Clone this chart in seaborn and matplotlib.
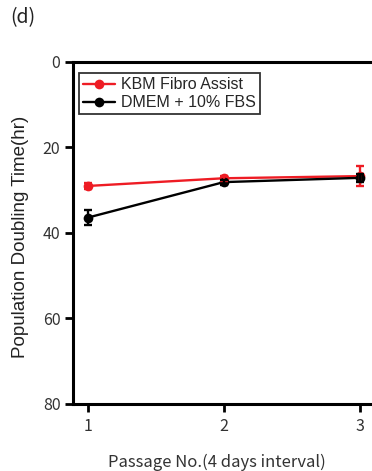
import matplotlib
matplotlib.use("Agg")
import matplotlib.pyplot as plt
import seaborn as sns
import pandas as pd

# Population doubling time per passage, mean and error
passages = [1, 2, 3]
kbm_mean = [29.0, 27.2, 26.7]
kbm_err = [0.6, 0.6, 2.3]
dmem_mean = [36.4, 28.1, 27.1]
dmem_err = [1.7, 0.6, 0.9]
series_names = ["KBM Fibro Assist", "DMEM + 10% FBS"]
series_colors = ["#ee1c24", "#000000"]
y_ticks = [0, 20, 40, 60, 80]

sns.set_theme(style="white")
plt.rcParams["font.family"] = ["Liberation Sans", "DejaVu Sans"]

df = pd.DataFrame({
    "passage": passages * 2,
    "pdt": kbm_mean + dmem_mean,
    "err": kbm_err + dmem_err,
    "medium": [series_names[0]] * 3 + [series_names[1]] * 3,
})

fig = plt.figure(figsize=(3.72, 4.71), dpi=100)
ax = fig.add_axes([0.196, 0.1423, 0.826, 0.7261])

sns.lineplot(data=df, x="passage", y="pdt", hue="medium",
             palette=dict(zip(series_names, series_colors)),
             marker="o", markersize=7, markeredgewidth=0, linewidth=1.7,
             ax=ax, legend=True)

for name, color, z in zip(series_names, series_colors, [3, 4]):
    sub = df[df["medium"] == name]
    ax.errorbar(sub["passage"], sub["pdt"], yerr=sub["err"], fmt="none",
                ecolor=color, elinewidth=1.7, capsize=3, capthick=1.7, zorder=z)

ax.set_xlim(0.89, 3.15)
ax.set_ylim(80, 0)
ax.set_yticks(y_ticks)
ax.set_xticks(passages)
tick_font = ["Noto Sans CJK JP", "DejaVu Sans"]
ax.set_yticklabels([str(v) for v in y_ticks], family=tick_font, fontsize=11.5, color="#333333")
ax.set_xticklabels([str(v) for v in passages], family=tick_font, fontsize=11.5, color="#333333")
ax.tick_params(axis="both", direction="out", length=6, width=2, color="black",
               left=True, bottom=True, pad=3)
ax.tick_params(axis="x", pad=4)

for side in ["left", "top", "bottom", "right"]:
    ax.spines[side].set_color("black")
    ax.spines[side].set_linewidth(2.2)

ax.set_xlabel("Passage No.(4 days interval)", family=tick_font, fontsize=12,
              color="#333333", va="center")
ax.xaxis.set_label_coords(0.468, -0.17)
ax.set_ylabel("Population Doubling Time(hr)", fontsize=13.5, color="#222222",
              va="center")
ax.yaxis.set_label_coords(-0.17, 0.49)

leg = ax.legend(loc="upper left", bbox_to_anchor=(0.02, 0.967), frameon=True,
                fancybox=False, edgecolor="black", fontsize=11.5,
                handlelength=2.0, handletextpad=0.4, borderpad=0.25,
                labelspacing=0.2, borderaxespad=0)
leg.get_frame().set_linewidth(1.3)

fig.text(0.027, 0.962, "(d)", fontsize=14, family=tick_font, color="#222222",
         va="center")

fig.savefig("out.png", dpi=100)
